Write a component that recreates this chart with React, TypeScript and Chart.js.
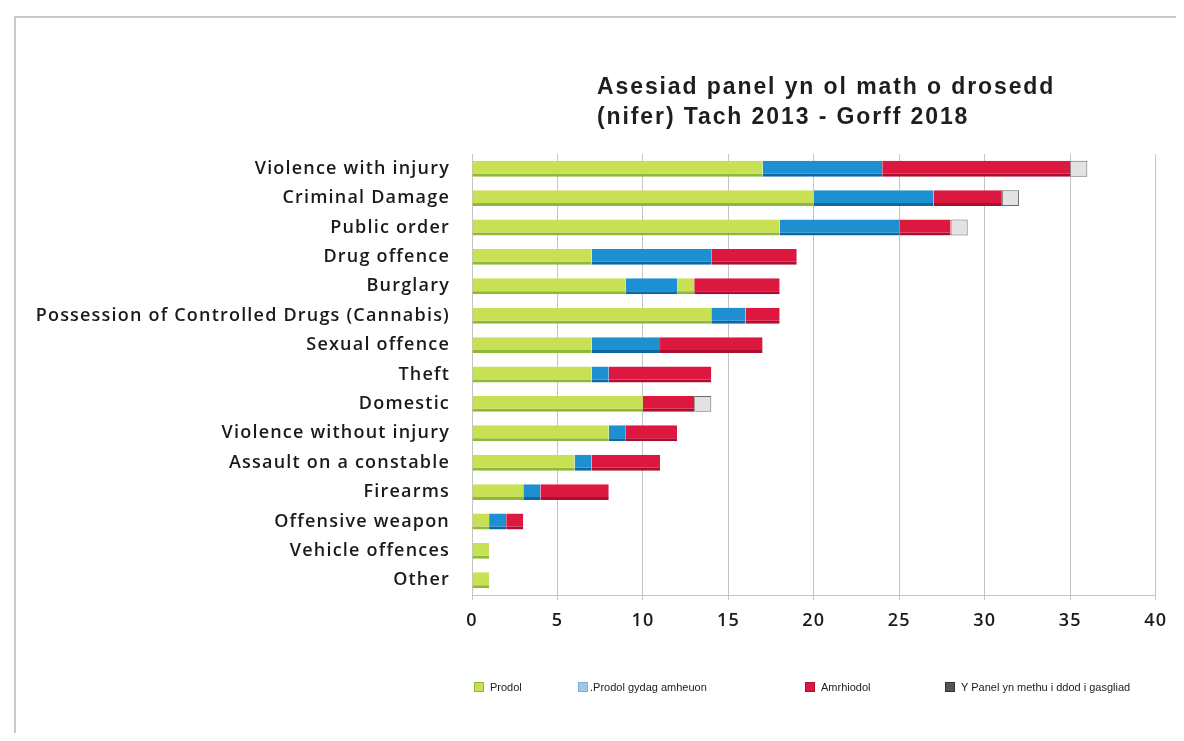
import React, { useEffect, useRef } from "react";
import { Chart, registerables } from "chart.js";

Chart.register(...registerables);

const categories = [
  "Violence with injury",
  "Criminal Damage",
  "Public order",
  "Drug offence",
  "Burglary",
  "Possession of Controlled Drugs (Cannabis)",
  "Sexual offence",
  "Theft",
  "Domestic",
  "Violence without injury",
  "Assault on a constable",
  "Firearms",
  "Offensive weapon",
  "Vehicle offences",
  "Other",
];

const prodol = [17, 20, 18, 7, 9, 14, 7, 7, 10, 8, 6, 3, 1, 1, 1];
const prodolAmheuon = [7, 7, 7, 7, 3, 2, 4, 1, 0, 1, 1, 1, 1, 0, 0];
const prodolExtra = [0, 0, 0, 0, 1, 0, 0, 0, 0, 0, 0, 0, 0, 0, 0];
const amrhiodol = [11, 4, 3, 5, 5, 2, 6, 6, 3, 3, 4, 4, 1, 0, 0];
const methu = [1, 1, 1, 0, 0, 0, 0, 0, 1, 0, 0, 0, 0, 0, 0];

const xTicks = [0, 5, 10, 15, 20, 25, 30, 35, 40];

const titleLines = ["Asesiad panel yn ol math o drosedd", "(nifer) Tach 2013 - Gorff 2018"];

const legendLabels = ["Prodol", ".Prodol gydag amheuon", "Amrhiodol", "Y Panel yn methu i ddod i gasgliad"];

const GREEN = "#c8e053";
const GREEN_D = "#8cba35";
const BLUE = "#1e90d2";
const BLUE_D = "#0b68a6";
const RED = "#dd1840";
const RED_D = "#ad0d2e";
const GRAY = "#e2e2e2";
const GRAY_D = "#6a6a6a";

const spacingPlugin = {
  id: "spacing",
  beforeDraw(chart: any) {
    chart.ctx.letterSpacing = "1.2px";
  },
};

export default function App() {
  const ref = useRef<HTMLCanvasElement | null>(null);

  useEffect(() => {
    if (!ref.current) return;
    const bw = { top: 0, left: 0, right: 0, bottom: 3 };
    const common = {
      borderSkipped: false as const,
      barPercentage: 0.9,
      categoryPercentage: 0.6,
      borderWidth: bw,
    };
    const chart = new Chart(ref.current, {
      type: "bar",
      data: {
        labels: categories,
        datasets: [
          { label: legendLabels[0], data: prodol, backgroundColor: GREEN, borderColor: GREEN_D, ...common },
          { label: legendLabels[1], data: prodolAmheuon, backgroundColor: BLUE, borderColor: BLUE_D, ...common },
          { label: legendLabels[0] + " ", data: prodolExtra, backgroundColor: GREEN, borderColor: GREEN_D, ...common },
          { label: legendLabels[2], data: amrhiodol, backgroundColor: RED, borderColor: RED_D, ...common },
          {
            label: legendLabels[3],
            data: methu,
            backgroundColor: GRAY,
            borderColor: GRAY_D,
            borderSkipped: false,
            barPercentage: 0.9,
            categoryPercentage: 0.6,
            borderWidth: 1,
          },
        ],
      },
      plugins: [spacingPlugin],
      options: {
        indexAxis: "y",
        responsive: false,
        animation: false,
        layout: { padding: { left: 0, right: 18, top: 146, bottom: 98 } },
        plugins: {
          legend: { display: false },
          title: { display: false },
          tooltip: { enabled: false },
        },
        scales: {
          x: {
            stacked: true,
            min: 0,
            max: 40,
            afterBuildTicks: (scale: any) => {
              scale.ticks = xTicks.map((v) => ({ value: v }));
            },
            afterFit: (scale: any) => {
              scale.height = 40;
            },
            ticks: {
              stepSize: 5,
              padding: 10,
              color: "#1a1a1a",
              font: { family: "'Open Sans'", size: 18, weight: "600" },
            },
            grid: { color: "#c4c4c4", lineWidth: 1, drawTicks: true, tickLength: 5 },
            border: { display: true, color: "#c4c4c4" },
          },
          y: {
            stacked: true,
            afterFit: (scale: any) => {
              scale.width = 464;
            },
            ticks: {
              padding: 14,
              color: "#1a1a1a",
              font: { family: "'Open Sans'", size: 18, weight: "600" },
            },
            grid: { display: false },
            border: { display: true, color: "#c4c4c4" },
          },
        },
      },
    });
    return () => chart.destroy();
  }, []);

  const legendColors = [
    [GREEN, GREEN_D],
    ["#9cc8ec", "#7fb0dc"],
    [RED, RED_D],
    ["#555555", "#333333"],
  ];
  const legendLeft = [466, 570, 797, 937];

  return (
    <div style={{ position: "relative", width: 1168, height: 725, background: "#fff" }}>
      <div
        style={{
          position: "absolute",
          left: 6,
          top: 8,
          width: 1170,
          height: 740,
          borderLeft: "2px solid #c9c9c9",
          borderTop: "2px solid #c9c9c9",
          boxSizing: "border-box",
        }}
      />
      <canvas ref={ref} width={1168} height={725} style={{ position: "absolute", left: 0, top: 0 }} />
      <div
        style={{
          position: "absolute",
          left: 589,
          top: 63,
          fontFamily: "'Liberation Sans', Arial, sans-serif",
          fontWeight: 700,
          fontSize: 23,
          letterSpacing: "1.9px",
          lineHeight: "30px",
          color: "#1e1e1e",
          whiteSpace: "nowrap",
        }}
      >
        {titleLines.map((t, i) => (
          <div key={i}>{t}</div>
        ))}
      </div>
      {legendLabels.map((l, i) => (
        <div
          key={i}
          style={{
            position: "absolute",
            left: legendLeft[i],
            top: 673,
            display: "flex",
            alignItems: "center",
            fontFamily: "'Liberation Sans', Arial, sans-serif",
            fontSize: 11,
            color: "#222",
            whiteSpace: "nowrap",
          }}
        >
          <span
            style={{
              display: "inline-block",
              width: 8,
              height: 8,
              background: legendColors[i][0],
              border: `1px solid ${legendColors[i][1]}`,
              marginRight: i === 1 ? 2 : 6,
            }}
          />
          {l}
        </div>
      ))}
    </div>
  );
}
